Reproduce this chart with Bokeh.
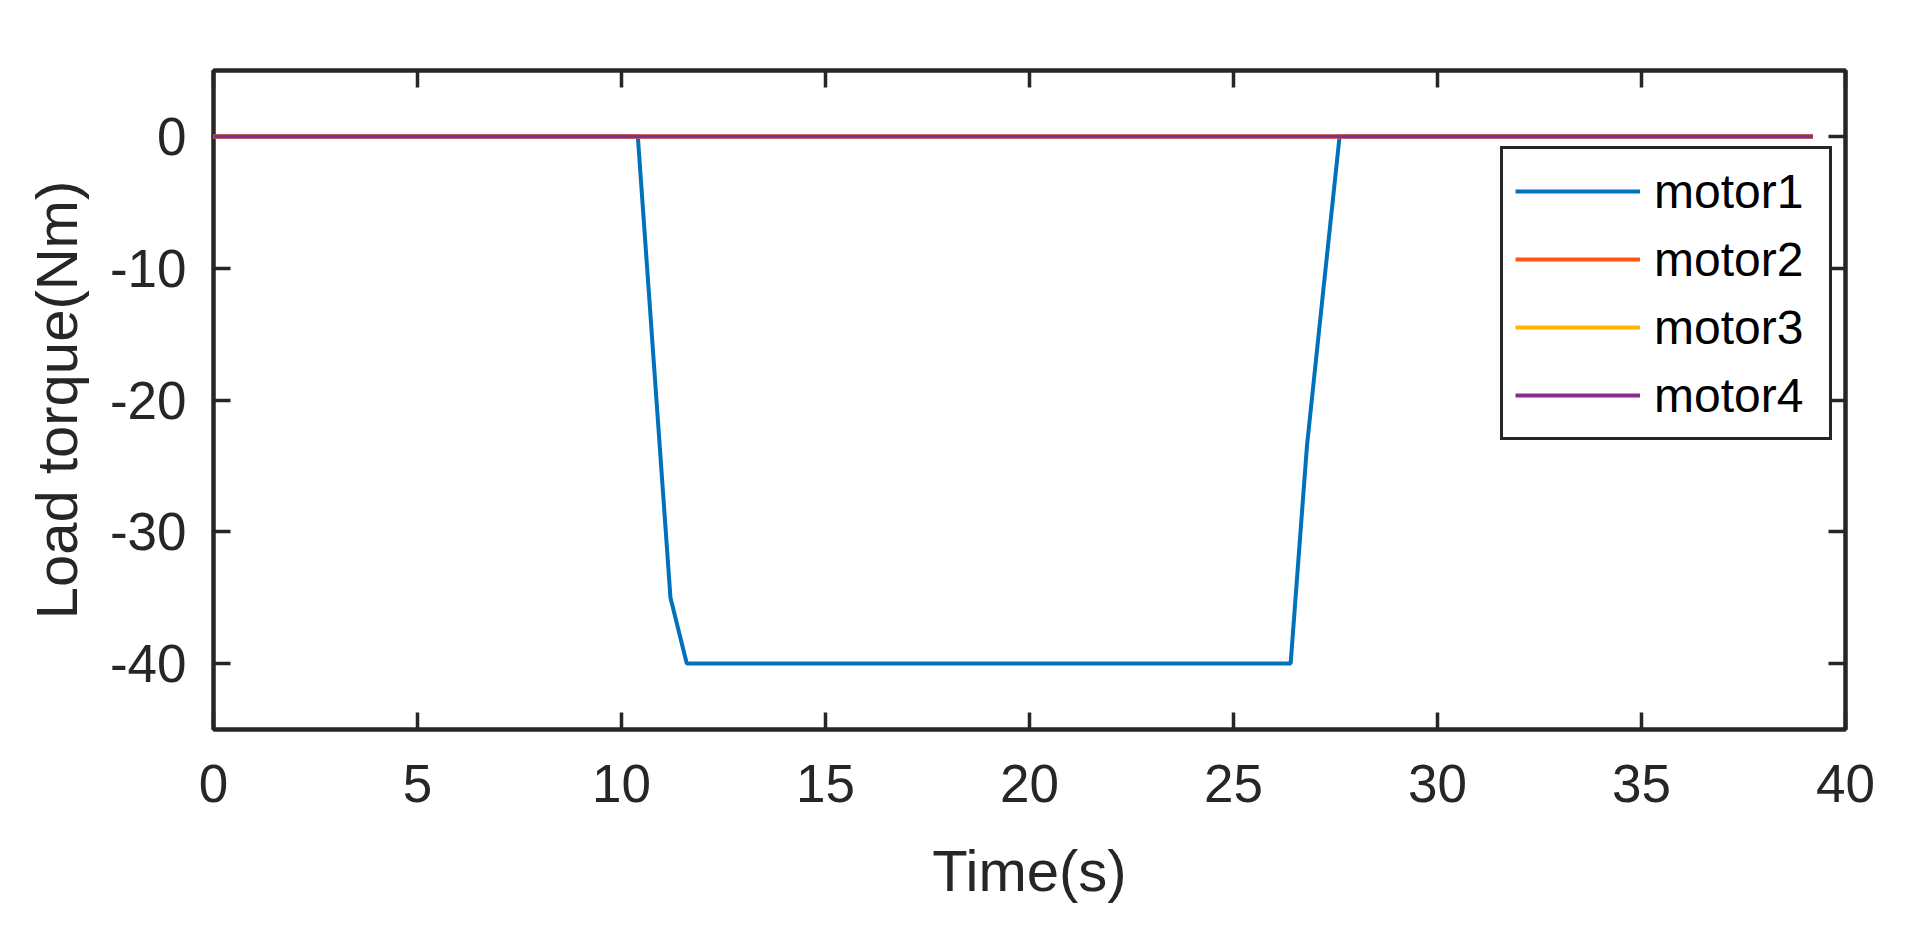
from bokeh.plotting import figure
from bokeh.models import Range1d, FixedTicker, LinearAxis, Legend, LegendItem, CustomJSTickFormatter
from bokeh.embed import file_html
from bokeh.resources import INLINE

# ---- data ----
time_s = [0, 10.4, 10.8, 11.2, 11.6, 26.4, 26.8, 27.2, 27.6, 39.2]
motor1 = [0, 0, -17.5, -35, -40, -40, -23.5, -11.7, 0, 0]
motor2 = [0, 0, 0, 0, 0, 0, 0, 0, 0, 0]
motor3 = [0, 0, 0, 0, 0, 0, 0, 0, 0, 0]
motor4 = [0, 0, 0, 0, 0, 0, 0, 0, 0, 0]
series_names = ["motor1", "motor2", "motor3", "motor4"]
series_colors = ["#0072BD", "#FF5412", "#FFB400", "#8A2A8E"]
x_ticks = [0, 5, 10, 15, 20, 25, 30, 35, 40]
y_ticks = [-40, -30, -20, -10, 0]
y_tick_labels = ["-40", "-30", "-20", "-10", "0"]

FONT = "Liberation Sans"
AX = "#262626"

p = figure(width=1898, height=909, output_backend="svg", toolbar_location=None,
           x_range=Range1d(0, 40), y_range=Range1d(-45, 5),
           min_border_left=213, min_border_right=53, min_border_top=70, min_border_bottom=180)
p.background_fill_color = "white"
p.border_fill_color = "white"
p.grid.visible = False
p.outline_line_color = AX
p.outline_line_width = 4

def style_axis(ax):
    ax.axis_line_color = AX
    ax.axis_line_width = 4
    ax.major_tick_line_color = AX
    ax.major_tick_line_width = 3.5
    ax.major_tick_in = 17
    ax.major_tick_out = 0
    ax.minor_tick_line_color = None
    ax.major_label_text_font = FONT
    ax.major_label_text_color = AX
    ax.major_label_text_font_size = "53px"
    ax.axis_label_text_font = FONT
    ax.axis_label_text_color = AX
    ax.axis_label_text_font_style = "normal"
    ax.axis_label_text_font_size = "58px"

p.xaxis.ticker = FixedTicker(ticks=x_ticks)
p.yaxis.ticker = FixedTicker(ticks=y_ticks)
style_axis(p.xaxis[0])
style_axis(p.yaxis[0])
p.yaxis.major_label_overrides = {t: s for t, s in zip(y_ticks, y_tick_labels)}
p.xaxis.axis_label = "Time(s)"
p.yaxis.axis_label = "Load torque(Nm)"
p.xaxis.major_label_standoff = 35
p.yaxis.major_label_standoff = 27
p.xaxis.axis_label_standoff = 33
p.yaxis.axis_label_standoff = 18

blank = CustomJSTickFormatter(code="return '';")
top_ax = LinearAxis(ticker=FixedTicker(ticks=x_ticks), formatter=blank)
right_ax = LinearAxis(ticker=FixedTicker(ticks=y_ticks), formatter=blank)
style_axis(top_ax)
style_axis(right_ax)
p.add_layout(top_ax, "above")
p.add_layout(right_ax, "right")

series = [motor1, motor2, motor3, motor4]
items = []
for name, col, vals in zip(series_names, series_colors, series):
    r = p.line(time_s, vals, line_color=col, line_width=4, level="overlay")
    items.append(LegendItem(label=name, renderers=[r]))

legend = Legend(items=items, location=(1287, 289))
legend.label_text_font = FONT
legend.label_text_font_size = "48px"
legend.label_text_color = "black"
legend.border_line_color = AX
legend.border_line_width = 3.5
legend.border_line_alpha = 1
legend.background_fill_color = "white"
legend.background_fill_alpha = 1
legend.padding = 12
legend.spacing = 8
legend.glyph_width = 125
legend.glyph_height = 60
legend.label_height = 60
legend.label_width = 163
legend.label_standoff = 14
legend.margin = 0
p.add_layout(legend, "center")

open("out.html", "w").write(file_html(p, INLINE))
